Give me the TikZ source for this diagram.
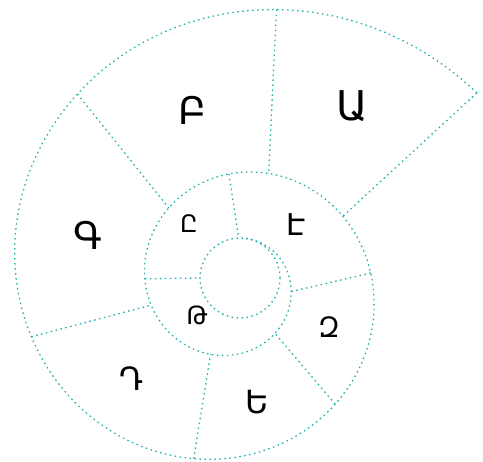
\documentclass[tikz,border=0pt]{standalone}
\usepackage{fontspec}
\newfontfamily\arm{DejaVu Sans}
\definecolor{sea}{RGB}{32,178,170}
\begin{document}
\begin{tikzpicture}[x=1pt,y=-1pt,
  dotline/.style={draw=sea, line width=1.3pt, dash pattern=on 1.5pt off 3.5pt},
  lbl/.style={anchor=base, inner sep=0pt, font=\arm\fontsize{#1}{#1}\selectfont},
  declare function={sr(\t)=309*exp(-0.896*(\t-38.2)/360);
     sx(\t)=234+sr(\t)*cos(\t); sy(\t)=284-sr(\t)*sin(\t);}
]
\useasboundingbox (0,0) rectangle (483,462);
% spiral
\draw[dotline] plot[smooth, domain=38.2:795, samples=320, variable=\t] ({sx(\t)},{sy(\t)});
% inner circle
\coordinate (c) at (240,278);
\draw[dotline] (c) circle[radius=40pt];
% dividing lines: outer whorl to middle whorl
\foreach \n/\a/\b in {ab/81.2/432.6, bg/129.5/490.6, gd/194.6/554.3, de/257/611.6, ez/310.1/669.7, zt/364.6/712.4, tip/38.2/391.9}{
  \coordinate (\n-o) at ({sx(\a)},{sy(\a)});
  \coordinate (\n-i) at ({sx(\b)},{sy(\b)});
  \draw[dotline] (\n-o) -- (\n-i);
}
% middle whorl to inner circle
\coordinate (ee-o) at ({sx(452.6)},{sy(452.6)});
\coordinate (ee-i) at (238.6,238.0);
\draw[dotline] (ee-o) -- (ee-i);
\coordinate (et-o) at ({sx(536.7)},{sy(536.7)});
\coordinate (et-i) at (200,278);
\draw[dotline] (et-o) -- (et-i);
% labels
\node[lbl=41] (A) at (352,121) {Ա};
\node[lbl=38] (B) at (192,125) {Բ};
\node[lbl=38] (G) at (88,250) {Գ};
\node[lbl=32] (D) at (132,391) {Դ};
\node[lbl=32] (E) at (257,414) {Ե};
\node[lbl=28] (Z) at (329,338) {Զ};
\node[lbl=30] (EE) at (296,236) {Է};
\node[lbl=24] (ET) at (189,233) {Ը};
\node[lbl=25] (TO) at (197,325) {Թ};
\end{tikzpicture}
\end{document}
